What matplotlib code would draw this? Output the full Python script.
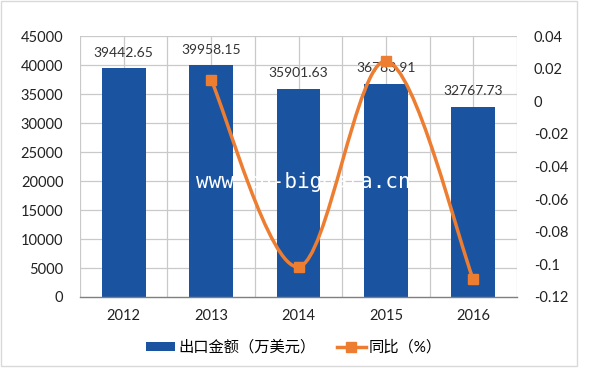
import matplotlib
matplotlib.use('Agg')
import matplotlib.pyplot as plt
from matplotlib.path import Path
from matplotlib.patches import PathPatch, Patch, Rectangle
from matplotlib.lines import Line2D

plt.rcParams['font.family'] = ['Lato', 'Noto Sans CJK SC', 'DejaVu Sans']

# data
years = ['2012', '2013', '2014', '2015', '2016']
export_value = [39442.65, 39958.15, 35901.63, 36783.91, 32767.73]   # 出口金额（万美元）
yoy = [None, 0.0131, -0.1015, 0.0246, -0.1092]                     # 同比（%）

bar_color = '#1a54a0'
line_color = '#ed7d31'
grid_color = '#c9c9c9'

fig = plt.figure(figsize=(6, 3.69), dpi=100)
ax = fig.add_axes([80 / 600, 1 - 297 / 369, 437 / 600, 261 / 369])
ax2 = ax.twinx()

x = list(range(len(years)))
ax.bar(x, export_value, width=0.5, color=bar_color, zorder=2)
for xi, v in zip(x, export_value):
    ax.annotate(f'{v:.2f}', (xi, v), xytext=(0, 7), textcoords='offset points',
                ha='center', va='bottom', fontsize=10, color='#333333', zorder=4)

ax.set_xlim(-0.5, len(years) - 0.5)
ax.set_ylim(0, 45000)
ax.set_yticks(range(0, 45001, 5000))
ax.set_xticks(x)
ax.set_xticklabels(years)
# grid: horizontal per tick, vertical every half category
for yv in range(5000, 45001, 5000):
    ax.axhline(yv, color=grid_color, lw=0.9, zorder=0)
for k in range(2 * len(years) + 1):
    ax.axvline(-0.5 + 0.5 * k, color=grid_color, lw=0.9, zorder=0)

for s in ['top', 'right', 'left']:
    ax.spines[s].set_visible(False)
ax.spines['bottom'].set_color('#7f7f7f')
ax.spines['bottom'].set_linewidth(1.0)
ax.tick_params(axis='y', length=0, pad=12, labelsize=10.5, labelcolor='#222222')
ax.tick_params(axis='x', length=0, pad=9, labelsize=10.5, labelcolor='#222222')

# watermark (white, shows only over bars and grid)
ax.text(0.51, 0.44, 'www.cn-bigdata.cn', transform=ax.transAxes, ha='center', va='center',
        color='white', fontsize=15, family='DejaVu Sans Mono', zorder=3)

# secondary axis, smoothed line (Catmull-Rom style bezier through the points)
pts = [(xi, v) for xi, v in zip(x, yoy) if v is not None]
verts = [pts[0]]
codes = [Path.MOVETO]
n = len(pts)
for i in range(n - 1):
    p0 = pts[i - 1] if i > 0 else pts[i]
    p1 = pts[i]
    p2 = pts[i + 1]
    p3 = pts[i + 2] if i + 2 < n else pts[i + 1]
    c1 = (p1[0] + (p2[0] - p0[0]) / 6, p1[1] + (p2[1] - p0[1]) / 6)
    c2 = (p2[0] - (p3[0] - p1[0]) / 6, p2[1] - (p3[1] - p1[1]) / 6)
    verts += [c1, c2, p2]
    codes += [Path.CURVE4] * 3
ax2.add_patch(PathPatch(Path(verts, codes), facecolor='none', edgecolor=line_color,
                        lw=2.5, zorder=3))
ax2.plot([p[0] for p in pts], [p[1] for p in pts], 's', color=line_color,
         markersize=6.5, zorder=4)

ax2.set_ylim(-0.12, 0.04)
rticks = [round(-0.12 + 0.02 * k, 2) for k in range(9)]
ax2.set_yticks(rticks)
ax2.set_yticklabels([f'{t:g}' for t in rticks])
for s in ax2.spines.values():
    s.set_visible(False)
ax2.tick_params(axis='y', length=0, pad=12, labelsize=10.5, labelcolor='#222222')

# legend
handles = [Patch(facecolor=bar_color, edgecolor='none'),
           Line2D([0], [0], color=line_color, lw=2.5, marker='s', markersize=6.5)]
fig.legend(handles, ['出口金额（万美元）', '同比（%）'], loc='center',
           bbox_to_anchor=(0.49, 0.058), ncol=2, frameon=False, fontsize=11,
           handlelength=1.9, handleheight=0.5, columnspacing=1.4, handletextpad=0.2)

# chart area border
fig.patches.append(Rectangle((1 / 600, 3 / 369), 576 / 600, 365 / 369, transform=fig.transFigure,
                             fill=False, edgecolor='#d9d9d9', lw=1.0))

fig.savefig('out.png', dpi=100)
